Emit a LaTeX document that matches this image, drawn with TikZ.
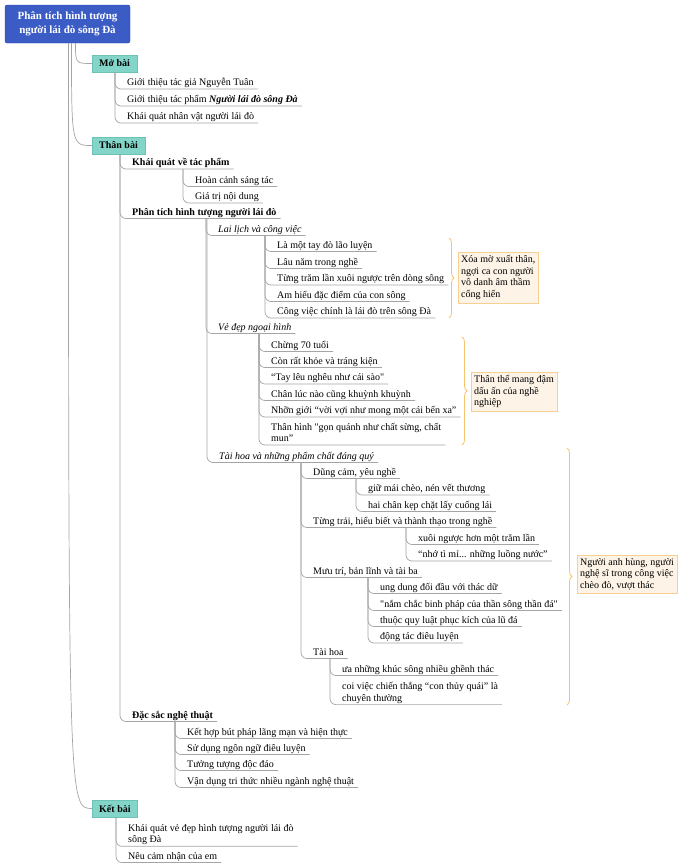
\documentclass[tikz,border=0pt]{standalone}
\usepackage{fontspec}
\setmainfont{Liberation Serif}[Ligatures=TeXOff]
\usetikzlibrary{calc,decorations.pathreplacing}
\definecolor{rootblue}{HTML}{3B5BC5}
\definecolor{rootline}{HTML}{2C47A6}
\definecolor{secfill}{HTML}{82D5C8}
\definecolor{secline}{HTML}{6CC2B4}
\definecolor{notefill}{HTML}{FDF3E6}
\definecolor{noteline}{HTML}{F6CF91}
\definecolor{bracecol}{HTML}{F5C46E}
\definecolor{linkgray}{HTML}{A5A5A5}
\begin{document}
\begin{tikzpicture}[x=1pt, y=-1pt, font=\fontsize{10}{11.7}\selectfont,
    root/.style = {fill=rootblue, draw=rootline, text=white, align=center,
      font=\fontsize{11}{14}\selectfont\bfseries, minimum width=125pt,
      minimum height=38pt, rounded corners=2pt},
    sec/.style = {anchor=west, fill=secfill, draw=secline, font=\bfseries,
      inner xsep=7pt, minimum height=17pt},
    leaf/.style = {anchor=south west, inner xsep=4pt, inner ysep=1pt, align=left,
      execute at end node={\rule[-2pt]{0pt}{8pt}}},
    note/.style = {anchor=north west, draw=noteline, fill=notefill, align=left,
      inner xsep=3pt, inner ysep=3pt},
    link/.style = {draw=linkgray, line width=0.7pt},
    twig/.style = {rounded corners=6pt,
      to path={($(\tikztostart.south -| \tikztotarget.south west)+(-8,0)$) |- (\tikztotarget.south east)}},
    trunk/.style = {to path={($(\tikztostart.south)+(#1,0)$) .. controls ($(\tikztostart.south |- \tikztotarget.west)+(#1,0)$) .. (\tikztotarget.west)}},
    brace/.style = {draw=bracecol, line width=0.8pt, decorate, decoration={brace, amplitude=5pt}}]
    \useasboundingbox (0,0) rectangle (680,868);

    % chu de chinh
    \node[root] (root) at (67.5,24) {Phân tích hình tượng\\người lái đò sông Đà};

    % Mo bai
    \node[sec] (mo) at (92,63.5) {Mở bài};
    \node[leaf] (mo1) at (123,89) {Giới thiệu tác giả Nguyễn Tuân};
    \node[leaf] (mo2) at (123,106) {Giới thiệu tác phẩm \textbf{\textit{Người lái đò sông Đà}}};
    \node[leaf] (mo3) at (123,123) {Khái quát nhân vật người lái đò};

    % Than bai
    \node[sec] (tb) at (92,145.5) {Thân bài};
    \node[leaf, font=\bfseries] (kq) at (128,169) {Khái quát về tác phẩm};
    \node[leaf] (kq1) at (191,186.5) {Hoàn cảnh sáng tác};
    \node[leaf] (kq2) at (191,203) {Giá trị nội dung};
    \node[leaf, font=\bfseries] (pt) at (128,218.5) {Phân tích hình tượng người lái đò};

    \node[leaf, font=\itshape] (ll) at (214,235.5) {Lai lịch và công việc};
    \node[leaf] (ll1) at (273,251.5) {Là một tay đò lão luyện};
    \node[leaf] (ll2) at (273,268.5) {Lâu năm trong nghề};
    \node[leaf] (ll3) at (273,285) {Từng trăm lần xuôi ngược trên dòng sông};
    \node[leaf] (ll4) at (273,301.5) {Am hiểu đặc điểm của con sông};
    \node[leaf] (ll5) at (273,318) {Công việc chính là lái đò trên sông Đà};

    \node[leaf, font=\itshape] (vd) at (214,333.5) {Vẻ đẹp ngoại hình};
    \node[leaf] (vd1) at (267,351.5) {Chừng 70 tuổi};
    \node[leaf] (vd2) at (267,367.5) {Còn rất khỏe và tráng kiện};
    \node[leaf] (vd3) at (267,384) {“Tay lêu nghêu như cái sào"};
    \node[leaf] (vd4) at (267,400.5) {Chân lúc nào cũng khuỳnh khuỳnh};
    \node[leaf] (vd5) at (267,417) {Nhỡn giới “vời vợi như mong một cái bến xa”};
    \node[leaf] (vd6) at (267,445) {Thân hình "gọn quánh như chất sừng, chất\\mun”};

    \node[leaf, font=\itshape] (th) at (215,462.5) {Tài hoa và những phẩm chất đáng quý};
    \node[leaf] (dc) at (309,478.5) {Dũng cảm, yêu nghề};
    \node[leaf] (dc1) at (364,495) {giữ mái chèo, nén vết thương};
    \node[leaf] (dc2) at (364,511.5) {hai chân kẹp chặt lấy cuống lái};
    \node[leaf] (tt) at (309,527.5) {Từng trải, hiểu biết và thành thạo trong nghề};
    \node[leaf] (tt1) at (414,544.5) {xuôi ngược hơn một trăm lần};
    \node[leaf] (tt2) at (414,561) {“nhớ tì mỉ... những luồng nước”};
    \node[leaf] (mt) at (309,577.5) {Mưu trí, bản lĩnh và tài ba};
    \node[leaf] (mt1) at (376,593.5) {ung dung đối đầu với thác dữ};
    \node[leaf] (mt2) at (376,610.5) {"nắm chắc binh pháp của thần sông thần đá"};
    \node[leaf] (mt3) at (376,626.5) {thuộc quy luật phục kích của lũ đá};
    \node[leaf] (mt4) at (376,643) {động tác điêu luyện};
    \node[leaf] (tal) at (309,658.5) {Tài hoa};
    \node[leaf] (tal1) at (338,675.5) {ưa những khúc sông nhiều ghềnh thác};
    \node[leaf] (tal2) at (338,704.6) {coi việc chiến thắng “con thủy quái” là\\chuyên thường};

    \node[leaf, font=\bfseries] (ds) at (128,721.5) {Đặc sắc nghệ thuật};
    \node[leaf] (ds1) at (183,738.5) {Kết hợp bút pháp lãng mạn và hiện thực};
    \node[leaf] (ds2) at (183,754.5) {Sử dụng ngôn ngữ điêu luyện};
    \node[leaf] (ds3) at (183,770.5) {Tưởng tượng độc đáo};
    \node[leaf] (ds4) at (183,787.5) {Vận dụng tri thức nhiều ngành nghệ thuật};

    % Ket bai
    \node[sec] (kb) at (92,808.5) {Kết bài};
    \node[leaf] (kb1) at (124,846.3) {Khái quát vẻ đẹp hình tượng người lái đò\\sông Đà};
    \node[leaf] (kb2) at (124,862.5) {Nêu cảm nhận của em};

    % ghi chu
    \node[note] (n1) at (458,252) {Xóa mờ xuất thân,\\ngợi ca con người\\vô danh âm thầm\\cống hiến};
    \node[note] (n2) at (471,372) {Thân thể mang đậm\\dấu ấn của nghề\\nghiệp};
    \node[note] (n3) at (577,555) {Người anh hùng, người\\nghệ sĩ trong công việc\\chèo đò, vượt thác};

    % nhanh
    \path[link] (root) edge[trunk=8] (mo) edge[trunk=4] (tb) edge[trunk=1] (kb);
    \path[link] (mo) edge[twig] (mo1) edge[twig] (mo2) edge[twig] (mo3);
    \path[link] (tb) edge[twig] (kq) edge[twig] (pt) edge[twig] (ds);
    \path[link] (kq) edge[twig] (kq1) edge[twig] (kq2);
    \path[link] (pt) edge[twig] (ll) edge[twig] (vd) edge[twig] (th);
    \path[link] (ll) edge[twig] (ll1) edge[twig] (ll2) edge[twig] (ll3)
      edge[twig] (ll4) edge[twig] (ll5);
    \path[link] (vd) edge[twig] (vd1) edge[twig] (vd2) edge[twig] (vd3)
      edge[twig] (vd4) edge[twig] (vd5) edge[twig] (vd6);
    \path[link] (th) edge[twig] (dc) edge[twig] (tt) edge[twig] (mt) edge[twig] (tal);
    \path[link] (dc) edge[twig] (dc1) edge[twig] (dc2);
    \path[link] (tt) edge[twig] (tt1) edge[twig] (tt2);
    \path[link] (mt) edge[twig] (mt1) edge[twig] (mt2) edge[twig] (mt3) edge[twig] (mt4);
    \path[link] (tal) edge[twig] (tal1) edge[twig] (tal2);
    \path[link] (ds) edge[twig] (ds1) edge[twig] (ds2) edge[twig] (ds3) edge[twig] (ds4);
    \path[link] (kb) edge[twig] (kb1) edge[twig] (kb2);

    % ngoac
    \draw[brace] (449,238) -- (449,318);
    \draw[brace] (462,337) -- (462,445);
    \draw[brace] (567,448) -- (567,705);
\end{tikzpicture}
\end{document}
